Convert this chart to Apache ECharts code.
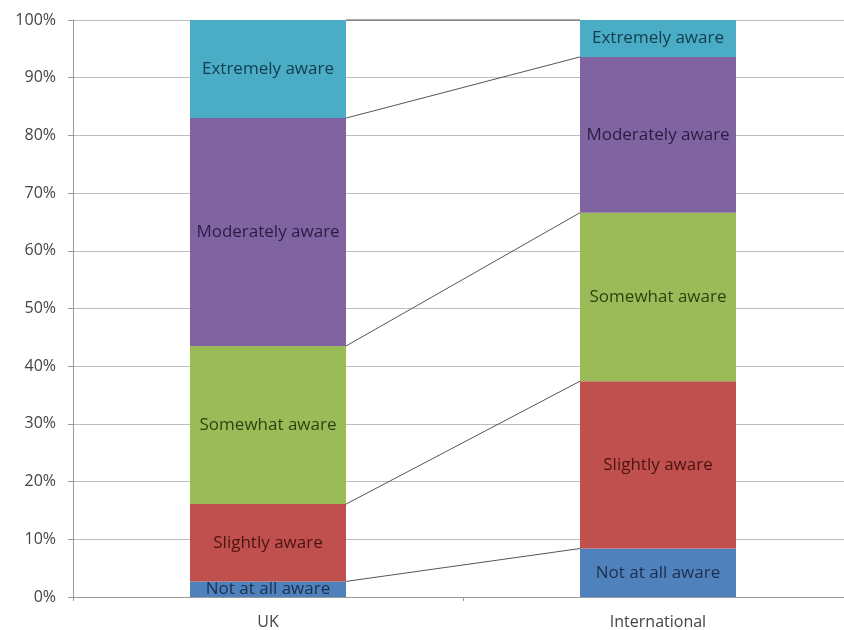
<!DOCTYPE html>
<html>
<head>
<meta charset="utf-8">
<script src="https://cdn.jsdelivr.net/npm/echarts@6/dist/echarts.min.js"></script>
<style>
  html, body { margin: 0; padding: 0; background: #fff; }
  #chart { width: 844px; height: 630px; }
</style>
</head>
<body>
<div id="chart"></div>
<script>
// categories and awareness levels
var categories = ['UK', 'International'];
var levels = ['Not at all aware', 'Slightly aware', 'Somewhat aware', 'Moderately aware', 'Extremely aware'];

// share of respondents (%) per level
var notAtAll   = [2.7, 8.4];
var slightly   = [13.4, 29.0];
var somewhat   = [27.4, 29.2];
var moderately = [39.5, 27.0];
var extremely  = [17.0, 6.4];

var yTicks = [0, 10, 20, 30, 40, 50, 60, 70, 80, 90, 100];

var fills  = ['#4F81BD', '#C0504D', '#9BBB59', '#8064A2', '#4BACC6'];
var inks   = ['#1c2f4d', '#4a1412', '#2a4410', '#2c1a45', '#123d4c'];

var values = [notAtAll, slightly, somewhat, moderately, extremely];

// cumulative tops of each segment, used for the connecting series lines
var tops = [];
var run = [0, 0];
for (var i = 0; i < values.length; i++) {
    run = [run[0] + values[i][0], run[1] + values[i][1]];
    tops.push([0, run[0], run[1]]);
}

var series = [];
for (var k = 0; k < levels.length; k++) {
    series.push({
        name: levels[k],
        type: 'bar',
        stack: 'total',
        barWidth: '40%',
        data: values[k],
        itemStyle: { color: fills[k] },
        label: {
            show: true,
            position: 'inside',
            formatter: levels[k],
            color: inks[k],
            fontFamily: 'Open Sans',
            fontSize: 17
        },
        z: 3
    });
}

// series lines between the bars
series.push({
    type: 'custom',
    data: tops,
    z: 4,
    silent: true,
    renderItem: function (params, api) {
        var band = api.size([1, 0])[0];
        var half = band * 0.2;
        var a = api.coord([0, api.value(1)]);
        var b = api.coord([1, api.value(2)]);
        return {
            type: 'line',
            shape: { x1: a[0] + half, y1: a[1], x2: b[0] - half, y2: b[1] },
            style: { stroke: '#555', lineWidth: 1 }
        };
    }
});

var chart = echarts.init(document.getElementById('chart'));
chart.setOption({
    animation: false,
    grid: { left: 73, right: -9, top: 20, bottom: 33, containLabel: false, outerBoundsMode: 'none' },
    xAxis: {
        type: 'category',
        data: categories,
        axisLine: { lineStyle: { color: '#999' } },
        axisTick: { show: true, length: 4, lineStyle: { color: '#999' } },
        axisLabel: { color: '#444', fontFamily: 'Open Sans', fontSize: 16, margin: 17 }
    },
    yAxis: {
        type: 'value',
        min: yTicks[0],
        max: yTicks[yTicks.length - 1],
        interval: 10,
        axisLine: { show: true, lineStyle: { color: '#999' } },
        axisTick: { show: true, length: 5, lineStyle: { color: '#999' } },
        axisLabel: { color: '#444', fontFamily: 'Open Sans', fontSize: 16, margin: 17, formatter: '{value}%' },
        splitLine: { lineStyle: { color: '#bdbdbd' } }
    },
    series: series
});
</script>
</body>
</html>
